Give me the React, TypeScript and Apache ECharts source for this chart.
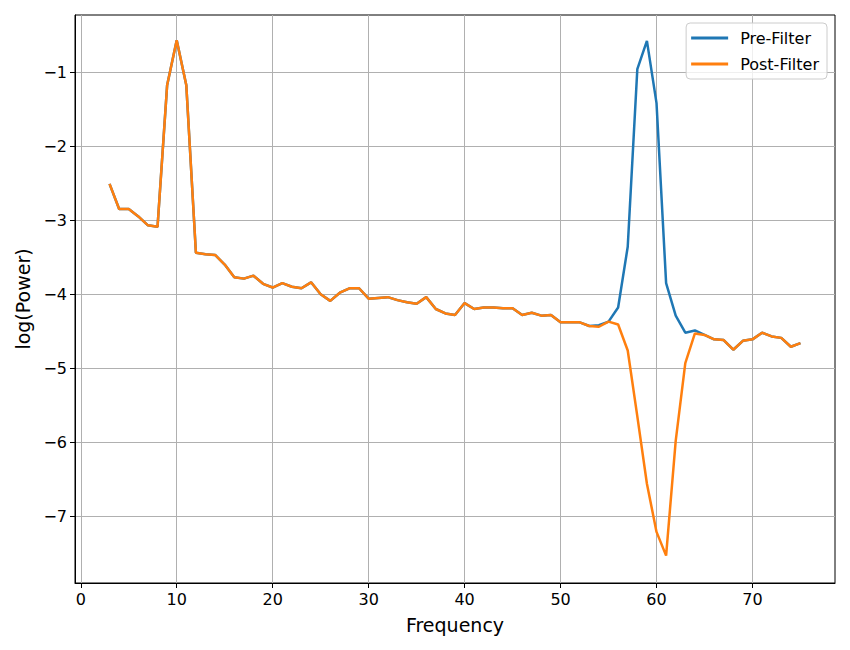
import React, { useEffect, useRef } from "react";
import * as echarts from "echarts";

const frequencies = [
  3, 4, 5, 6, 7, 8, 9, 10, 11, 12, 13, 14, 15, 16, 17, 18, 19, 20, 21, 22, 23, 24, 25, 26, 27, 28, 29, 30,
  31, 32, 33, 34, 35, 36, 37, 38, 39, 40, 41, 42, 43, 44, 45, 46, 47, 48, 49, 50, 51, 52, 53, 54, 55, 56,
  57, 58, 59, 60, 61, 62, 63, 64, 65, 66, 67, 68, 69, 70, 71, 72, 73, 74, 75,
];

const preFilter = [
  -2.51, -2.85, -2.85, -2.95, -3.07, -3.09, -1.18, -0.57, -1.18, -3.44, -3.46, -3.47, -3.6, -3.77, -3.79,
  -3.75, -3.86, -3.91, -3.85, -3.9, -3.92, -3.84, -4.0, -4.09, -3.98, -3.92, -3.92, -4.06, -4.05, -4.04,
  -4.08, -4.11, -4.13, -4.04, -4.2, -4.26, -4.28, -4.12, -4.2, -4.18, -4.18, -4.19, -4.19, -4.28, -4.25,
  -4.29, -4.28, -4.38, -4.38, -4.38, -4.43, -4.42, -4.37, -4.18, -3.36, -0.96, -0.58, -1.42, -3.85, -4.29,
  -4.52, -4.49, -4.55, -4.61, -4.62, -4.75, -4.63, -4.61, -4.52, -4.57, -4.59, -4.71, -4.66,
];

const postFilter = [
  -2.51, -2.85, -2.85, -2.95, -3.07, -3.09, -1.18, -0.57, -1.18, -3.44, -3.46, -3.47, -3.6, -3.77, -3.79,
  -3.75, -3.86, -3.91, -3.85, -3.9, -3.92, -3.84, -4.0, -4.09, -3.98, -3.92, -3.92, -4.06, -4.05, -4.04,
  -4.08, -4.11, -4.13, -4.04, -4.2, -4.26, -4.28, -4.12, -4.2, -4.18, -4.18, -4.19, -4.19, -4.28, -4.25,
  -4.29, -4.28, -4.38, -4.38, -4.38, -4.43, -4.44, -4.37, -4.41, -4.76, -5.65, -6.56, -7.21, -7.53, -5.98,
  -4.93, -4.53, -4.55, -4.61, -4.62, -4.75, -4.63, -4.61, -4.52, -4.57, -4.59, -4.71, -4.66,
];

const xTicks = [0, 10, 20, 30, 40, 50, 60, 70];
const yTicks = [-7, -6, -5, -4, -3, -2, -1];

const FONT = "DejaVu Sans";
const minus = (v: number) => (v < 0 ? "\u2212" + Math.abs(v) : String(v));

export default function App() {
  const ref = useRef<HTMLDivElement>(null);
  useEffect(() => {
    if (!ref.current) return;
    const chart = echarts.init(ref.current, undefined, { renderer: "svg" });
    const pre = frequencies.map((f, i) => [f, preFilter[i]]);
    const post = frequencies.map((f, i) => [f, postFilter[i]]);
    chart.setOption({
      animation: false,
      backgroundColor: "#ffffff",
      textStyle: { fontFamily: FONT },
      grid: {
        left: 75,
        right: 15,
        top: 15,
        bottom: 67,
        show: true,
        borderColor: "#000000",
        borderWidth: 1,
        backgroundColor: "transparent",
      },
      legend: {
        orient: "vertical",
        right: 23,
        top: 23,
        backgroundColor: "rgba(255,255,255,0.8)",
        borderColor: "#cccccc",
        borderWidth: 1,
        borderRadius: 4,
        padding: [7, 8, 7, 5],
        itemGap: 10,
        itemWidth: 37,
        itemHeight: 3,
        icon: "rect",
        textStyle: { fontFamily: FONT, fontSize: 16, color: "#000000", padding: [0, 0, 0, 7] },
        data: [
          { name: "Pre-Filter", icon: "rect", itemStyle: { color: "#1f77b4" } },
          { name: "Post-Filter", icon: "rect", itemStyle: { color: "#ff7f0e" } },
        ],
      },
      xAxis: {
        type: "value",
        min: -0.6,
        max: 78.6,
        splitNumber: 8,
        name: "Frequency",
        nameLocation: "middle",
        nameGap: 32,
        nameTextStyle: { fontFamily: FONT, fontSize: 19, color: "#000000" },
        axisLine: { show: true, onZero: false, lineStyle: { color: "#000000", width: 1 } },
        axisTick: {
          show: true,
          length: 5,
          customValues: xTicks,
          lineStyle: { color: "#000000" },
        },
        axisLabel: {
          customValues: xTicks,
          formatter: (v: number) => minus(v),
          fontFamily: FONT,
          fontSize: 16,
          color: "#000000",
          margin: 8,
        },
        splitLine: { show: true, lineStyle: { color: "#b0b0b0", width: 1 } },
      },
      yAxis: {
        type: "value",
        min: -7.9,
        max: -0.23,
        splitNumber: 8,
        name: "log(Power)",
        nameLocation: "middle",
        nameGap: 42,
        nameTextStyle: { fontFamily: FONT, fontSize: 19, color: "#000000" },
        axisLine: { show: true, onZero: false, lineStyle: { color: "#000000", width: 1 } },
        axisTick: {
          show: true,
          length: 5,
          customValues: yTicks,
          lineStyle: { color: "#000000" },
        },
        axisLabel: {
          customValues: yTicks,
          formatter: (v: number) => minus(v),
          fontFamily: FONT,
          fontSize: 16,
          color: "#000000",
          margin: 8,
        },
        splitLine: { show: true, lineStyle: { color: "#b0b0b0", width: 1 } },
      },
      series: [
        {
          name: "Pre-Filter",
          type: "line",
          data: pre,
          symbol: "none",
          color: "#1f77b4",
          lineStyle: { color: "#1f77b4", width: 2.5 },
        },
        {
          name: "Post-Filter",
          type: "line",
          data: post,
          symbol: "none",
          color: "#ff7f0e",
          lineStyle: { color: "#ff7f0e", width: 2.5 },
        },
      ],
    });
    return () => chart.dispose();
  }, []);
  return <div ref={ref} style={{ width: 850, height: 650, position: "absolute", left: 0, top: 0 }} />;
}
